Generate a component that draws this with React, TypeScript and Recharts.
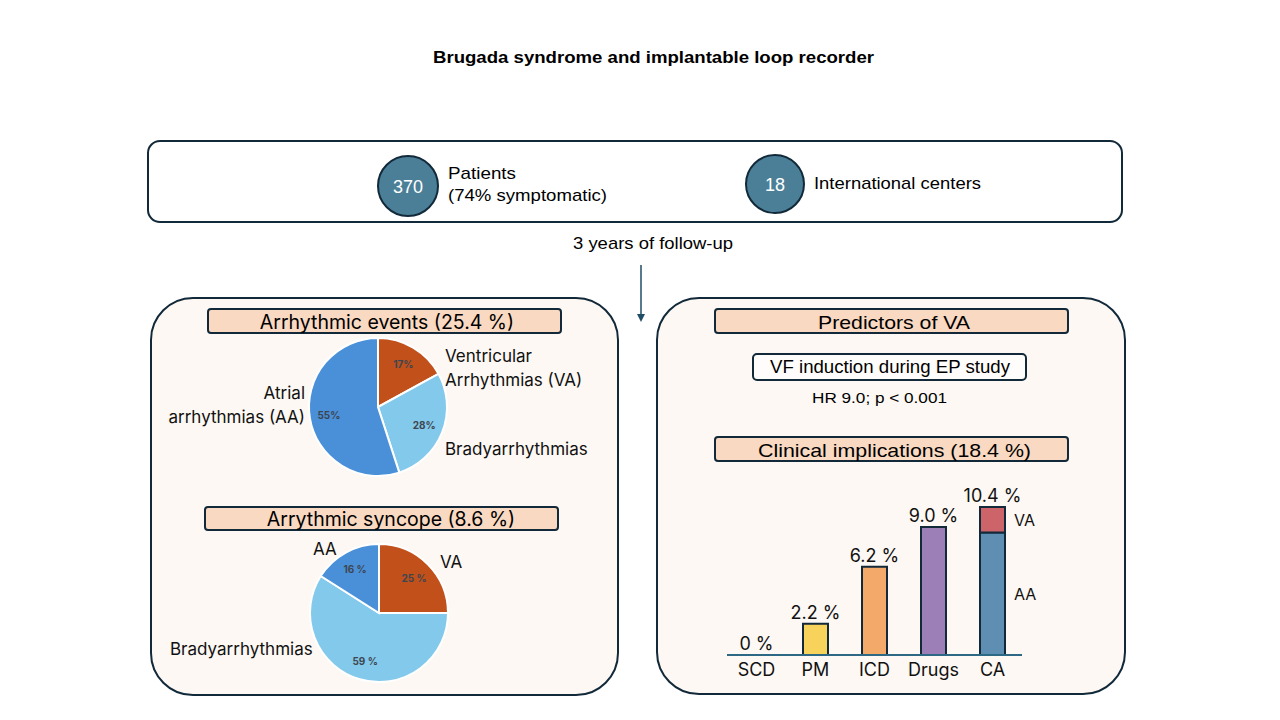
import React from 'react';
import { PieChart, Pie, Cell, BarChart, Bar, XAxis, YAxis, LabelList, ReferenceDot } from 'recharts';

// ---- data ----
const eventNames = ['VA', 'Bradyarrhythmias', 'AA'];
const eventValues = [17, 28, 55];
const eventLabels = ['17%', '28%', '55%'];

const syncopeNames = ['VA', 'Bradyarrhythmias', 'AA'];
const syncopeValues = [25, 59, 16];
const syncopeLabels = ['25 %', '59 %', '16 %'];

const sliceColors = ['#C1501A', '#83C9EB', '#4A90D9'];

const implCategories = ['SCD', 'PM', 'ICD', 'Drugs', 'CA'];
const implMain = [0, 2.2, 6.2, 9.0, 8.6];
const implVA = [0, 0, 0, 0, 1.8];
const implTotalValues = [0, 2.2, 6.2, 9.0, 10.4];
const implTotals = ['0 %', '2.2 %', '6.2 %', '9.0 %', '10.4 %'];
const implColors = ['#FFFFFF', '#F8D35C', '#F3A96A', '#9D7FB7', '#5E8FB2'];
const vaColor = '#CD6469';

const implData = implCategories.map((c, i) => ({
  name: c,
  main: implMain[i],
  va: implVA[i],
}));
const eventData = eventNames.map((n, i) => ({ name: n, value: eventValues[i], label: eventLabels[i] }));
const syncopeData = syncopeNames.map((n, i) => ({ name: n, value: syncopeValues[i], label: syncopeLabels[i] }));

const DARK = '#12293A';
const PEACH = '#F9D9C1';
const PANEL = '#FDF8F3';
const ARIAL = '"Liberation Sans", Arial, sans-serif';
const APTOS = 'Inter, "Noto Sans", sans-serif';
const RAD = Math.PI / 180;

const pctLabel = (props: any) => {
  const { cx, cy, midAngle, outerRadius, payload } = props;
  const r = outerRadius * 0.72;
  const x = cx + r * Math.cos(-midAngle * RAD);
  const y = cy + r * Math.sin(-midAngle * RAD);
  return (
    <text x={x} y={y} textAnchor="middle" dominantBaseline="central" fontSize={10} fontWeight={700} fill="#3D4650" fontFamily={APTOS}>
      {payload.label}
    </text>
  );
};

const sideLabel = (name: string) => (props: any) => {
  const { x, y, width, height, value } = props;
  if (value !== implCategories[implCategories.length - 1]) return null;
  return (
    <text x={x + width + 9} y={y + height / 2} dominantBaseline="central" fontSize={16} fill="#111" fontFamily={APTOS}>
      {name}
    </text>
  );
};

const T = (p: any) => (
  <text dominantBaseline="central" fontFamily={ARIAL} fill="#000" lengthAdjust="spacingAndGlyphs" {...p} />
);

export default function App() {
  return (
    <div style={{ position: 'fixed', left: 0, top: 0, width: 1280, height: 720, background: '#fff', overflow: 'hidden' }}>
      <svg width={1280} height={720} style={{ position: 'absolute', left: 0, top: 0 }}>
        <T x={433} y={57} fontWeight={700} fontSize={17} textLength={441}>Brugada syndrome and implantable loop recorder</T>
        {/* top box */}
        <rect x={148} y={141} width={974} height={81} rx={12} fill="#fff" stroke={DARK} strokeWidth={2} />
        <circle cx={408} cy={186} r={30} fill="#4B7F98" stroke={DARK} strokeWidth={2} />
        <text x={408} y={187} textAnchor="middle" dominantBaseline="central" fontFamily={ARIAL} fontSize={18} fill="#fff">370</text>
        <T x={448} y={173} fontSize={17} textLength={68}>Patients</T>
        <T x={448} y={195} fontSize={17} textLength={159}>(74% symptomatic)</T>
        <circle cx={775} cy={184} r={29} fill="#4B7F98" stroke={DARK} strokeWidth={2} />
        <text x={775} y={185} textAnchor="middle" dominantBaseline="central" fontFamily={ARIAL} fontSize={18} fill="#fff">18</text>
        <T x={814} y={183} fontSize={17} textLength={167}>International centers</T>
        <T x={573} y={243} fontSize={17} textLength={160}>3 years of follow-up</T>
        {/* arrow */}
        <line x1={641} y1={265} x2={641} y2={316} stroke="#1F4E66" strokeWidth={1.5} />
        <path d="M637,314 L641,322 L645,314 Z" fill="#1F4E66" />

        {/* left panel */}
        <rect x={151} y={298} width={467} height={397} rx={42} fill={PANEL} stroke={DARK} strokeWidth={2} />
        <rect x={208} y={309} width={353} height={24} rx={3} fill={PEACH} stroke={DARK} strokeWidth={2} />
        <text x={387} y={322} textAnchor="middle" dominantBaseline="central" fontFamily={APTOS} fontSize={19.5} fill="#000">Arrhythmic events (25.4 %)</text>
        <rect x={205} y={507} width={353} height={23} rx={3} fill={PEACH} stroke={DARK} strokeWidth={2} />
        <text x={391} y={519} textAnchor="middle" dominantBaseline="central" fontFamily={APTOS} fontSize={19.5} fill="#000">Arrythmic syncope (8.6 %)</text>

        <text x={445} y={356} dominantBaseline="central" fontFamily={APTOS} fontSize={17} fill="#111">Ventricular</text>
        <text x={445} y={380} dominantBaseline="central" fontFamily={APTOS} fontSize={17} fill="#111">Arrhythmias (VA)</text>
        <text x={305} y={393} textAnchor="end" dominantBaseline="central" fontFamily={APTOS} fontSize={17} fill="#111">Atrial</text>
        <text x={305} y={417} textAnchor="end" dominantBaseline="central" fontFamily={APTOS} fontSize={17} fill="#111">arrhythmias (AA)</text>
        <text x={445} y={449} dominantBaseline="central" fontFamily={APTOS} fontSize={17} fill="#111">Bradyarrhythmias</text>

        <text x={313} y={549} dominantBaseline="central" fontFamily={APTOS} fontSize={17} fill="#111">AA</text>
        <text x={440} y={562} dominantBaseline="central" fontFamily={APTOS} fontSize={17} fill="#111">VA</text>
        <text x={170} y={649} dominantBaseline="central" fontFamily={APTOS} fontSize={17} fill="#111">Bradyarrhythmias</text>

        {/* right panel */}
        <rect x={657} y={298} width={468} height={396} rx={42} fill={PANEL} stroke={DARK} strokeWidth={2} />
        <rect x={715} y={309} width={353} height={24} rx={3} fill={PEACH} stroke={DARK} strokeWidth={2} />
        <T x={818} y={322} fontSize={19} textLength={152}>Predictors of VA</T>
        <rect x={753} y={354} width={273} height={26} rx={4} fill="#FFFDFB" stroke={DARK} strokeWidth={2} />
        <T x={770} y={367} fontSize={18} textLength={240}>VF induction during EP study</T>
        <T x={812} y={398} fontSize={14} textLength={135}>HR 9.0; p &lt; 0.001</T>
        <rect x={715} y={437} width={353} height={24} rx={3} fill={PEACH} stroke={DARK} strokeWidth={2} />
        <T x={758} y={450} fontSize={19} textLength={273}>Clinical implications (18.4 %)</T>
      </svg>

      <div style={{ position: 'absolute', left: 298, top: 327 }}>
        <PieChart width={160} height={160} margin={{ top: 0, right: 0, bottom: 0, left: 0 }}>
          <Pie data={eventData} dataKey="value" cx={80} cy={80} outerRadius={69} startAngle={90} endAngle={-270}
            stroke="#fff" strokeWidth={2} label={pctLabel} labelLine={false} isAnimationActive={false}>
            {eventData.map((d, i) => <Cell key={i} fill={sliceColors[i]} />)}
          </Pie>
        </PieChart>
      </div>
      <div style={{ position: 'absolute', left: 299, top: 533 }}>
        <PieChart width={160} height={160} margin={{ top: 0, right: 0, bottom: 0, left: 0 }}>
          <Pie data={syncopeData} dataKey="value" cx={80} cy={80} outerRadius={69} startAngle={90} endAngle={-270}
            stroke="#fff" strokeWidth={2} label={pctLabel} labelLine={false} isAnimationActive={false}>
            {syncopeData.map((d, i) => <Cell key={i} fill={sliceColors[i]} />)}
          </Pie>
        </PieChart>
      </div>

      <div style={{ position: 'absolute', left: 700, top: 480 }}>
        <BarChart width={340} height={210} data={implData} margin={{ top: 27, right: 18, bottom: 5, left: 27 }} barSize={25}>
          <XAxis dataKey="name" height={30} axisLine={{ stroke: '#2D6985', strokeWidth: 2 }} tickLine={false}
            tick={{ fontSize: 18, fill: '#111', fontFamily: APTOS }} tickMargin={2} interval={0} />
          <YAxis hide domain={[0, 10.4]} />
          <Bar dataKey="main" stackId="a" stroke={DARK} strokeWidth={2} isAnimationActive={false}>
            {implData.map((d, i) => <Cell key={i} fill={implColors[i]} />)}
            <LabelList dataKey="name" content={sideLabel('AA')} />
          </Bar>
          <Bar dataKey="va" stackId="a" fill={vaColor} stroke={DARK} strokeWidth={2} isAnimationActive={false}>
            <LabelList dataKey="name" content={sideLabel('VA')} />
          </Bar>
          {implCategories.map((c, i) => (
            <ReferenceDot key={c} x={c} y={implTotalValues[i]} r={0} fill="none" stroke="none"
              label={{ value: implTotals[i], position: 'top', offset: 5, fontSize: 18, fill: '#111', fontFamily: APTOS }} />
          ))}
        </BarChart>
      </div>
    </div>
  );
}
